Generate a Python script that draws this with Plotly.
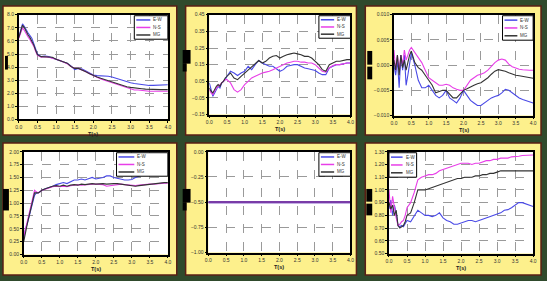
import plotly.graph_objects as go

W, H = 547, 281

# ---------------- data ----------------
T = [0.0, 0.05, 0.1, 0.15, 0.2, 0.25, 0.3, 0.35, 0.4, 0.45, 0.5,
     0.6, 0.7, 0.8, 0.9, 1.0, 1.1, 1.2, 1.3, 1.4, 1.5, 1.6, 1.7, 1.8, 1.9, 2.0,
     2.1, 2.2, 2.3, 2.4, 2.5, 2.6, 2.7, 2.8, 2.9, 3.0, 3.1, 3.2, 3.3, 3.4, 3.5,
     3.6, 3.7, 3.8, 3.9, 4.0]

series_names = ["E-W", "N-S", "MG"]

p1_ew = [6.3, 6.9, 7.3, 7.1, 6.8, 6.6, 6.4, 6.2, 5.8, 5.4, 5.0,
         4.8, 4.85, 4.8, 4.7, 4.55, 4.45, 4.4, 4.3, 4.1, 3.8, 3.9, 3.85, 3.7, 3.55, 3.4,
         3.35, 3.35, 3.35, 3.3, 3.25, 3.15, 3.05, 2.95, 2.85, 2.8, 2.75, 2.7, 2.65, 2.6, 2.6,
         2.6, 2.6, 2.62, 2.6, 2.65]
p1_ns = [6.2, 6.7, 7.0, 6.8, 6.5, 6.3, 6.1, 5.9, 5.6, 5.2, 4.9,
         4.75, 4.8, 4.75, 4.7, 4.6, 4.5, 4.4, 4.25, 4.05, 3.9, 3.9, 3.8, 3.65, 3.5, 3.35,
         3.2, 3.1, 3.0, 2.9, 2.8, 2.7, 2.6, 2.5, 2.4, 2.3, 2.25, 2.25, 2.2, 2.2, 2.15,
         2.15, 2.15, 2.15, 2.15, 2.15]
p1_mg = [6.25, 6.8, 7.2, 7.0, 6.7, 6.45, 6.25, 6.0, 5.7, 5.3, 4.95,
         4.8, 4.8, 4.8, 4.75, 4.6, 4.5, 4.4, 4.3, 4.05, 3.9, 3.9, 3.8, 3.65, 3.5, 3.35,
         3.25, 3.15, 3.05, 2.95, 2.9, 2.8, 2.7, 2.6, 2.5, 2.45, 2.4, 2.38, 2.35, 2.32, 2.3,
         2.28, 2.28, 2.28, 2.28, 2.28]

p2_ew = [0.04, -0.01, -0.04, -0.02, 0.0, 0.02, 0.01, 0.04, 0.05, 0.06, 0.08,
         0.11, 0.10, 0.085, 0.1, 0.11, 0.14, 0.12, 0.15, 0.175, 0.16, 0.15, 0.14, 0.14, 0.125, 0.11,
         0.12, 0.14, 0.145, 0.15, 0.15, 0.14, 0.13, 0.125, 0.12, 0.115, 0.1, 0.09, 0.09, 0.13, 0.14,
         0.15, 0.15, 0.155, 0.16, 0.16]
p2_ns = [0.0, -0.02, -0.03, -0.01, 0.01, 0.02, 0.03, 0.04, 0.05, 0.06, 0.06,
         0.04, 0.0, -0.015, 0.0, 0.03, 0.05, 0.07, 0.08, 0.09, 0.1, 0.105, 0.11, 0.12, 0.13, 0.14,
         0.15, 0.16, 0.165, 0.17, 0.17, 0.165, 0.165, 0.16, 0.16, 0.15, 0.13, 0.11, 0.105, 0.13, 0.145,
         0.15, 0.15, 0.155, 0.16, 0.16]
p2_mg = [0.01, -0.01, -0.02, 0.0, 0.02, 0.03, 0.02, 0.04, 0.05, 0.07, 0.08,
         0.1, 0.07, 0.06, 0.08, 0.1, 0.12, 0.14, 0.16, 0.175, 0.16, 0.17, 0.19, 0.2, 0.205, 0.19,
         0.2, 0.21, 0.215, 0.22, 0.215, 0.21, 0.2, 0.2, 0.19, 0.17, 0.15, 0.12, 0.11, 0.15, 0.16,
         0.17, 0.17, 0.175, 0.18, 0.18]

p3_ew = [0.0, -0.002, 0.001, -0.0045, 0.002, -0.001, 0.002, -0.004, -0.002, 0.0, 0.0025,
         0.0, -0.003, -0.0045, -0.0045, -0.004, -0.005, -0.006, -0.0065, -0.006, -0.005, -0.0065,
         -0.007, -0.0075, -0.0065, -0.005, -0.006, -0.007, -0.0075, -0.008, -0.008, -0.0075,
         -0.007, -0.0065, -0.0062, -0.006, -0.0055, -0.0048, -0.005, -0.0055, -0.006, -0.0065,
         -0.0068, -0.007, -0.0072, -0.0075]
p3_ns = [0.003, -0.001, 0.002, -0.001, 0.002, 0.0, 0.003, 0.001, 0.002, 0.003, 0.0035,
         0.0025, 0.0015, 0.0005, -0.001, -0.0025, -0.003, -0.0035, -0.004, -0.004, -0.0038, -0.004,
         -0.0045, -0.0048, -0.005, -0.005, -0.004, -0.003, -0.0025, -0.002, -0.0018, -0.0015,
         -0.001, -0.0002, 0.0005, 0.001, 0.0012, 0.001, 0.0002, -0.0003, -0.0006, -0.0008,
         -0.0009, -0.001, -0.001, -0.001]
p3_mg = [0.001, -0.001, 0.002, -0.002, 0.002, -0.0005, 0.001, -0.001, 0.0005, 0.002, 0.0028,
         0.0005, -0.0005, -0.001, -0.002, -0.003, -0.004, -0.0055, -0.0053, -0.005, -0.005, -0.0058,
         -0.0065, -0.0065, -0.0058, -0.005, -0.0047, -0.0043, -0.004, -0.0037, -0.0035, -0.003,
         -0.0025, -0.0018, -0.0012, -0.0009, -0.001, -0.0012, -0.0015, -0.0018, -0.002, -0.0021,
         -0.0022, -0.0023, -0.0025, -0.0026]

p4_ew = [0.3, 0.5, 0.6, 0.75, 0.9, 1.05, 1.15, 1.2, 1.2, 1.22, 1.25,
         1.28, 1.3, 1.33, 1.36, 1.38, 1.4, 1.38, 1.42, 1.45, 1.45, 1.47, 1.45, 1.48, 1.5, 1.47,
         1.48, 1.5, 1.53, 1.53, 1.5, 1.48, 1.47, 1.45, 1.45, 1.46, 1.5, 1.53, 1.55, 1.57, 1.58,
         1.6, 1.6, 1.6, 1.6, 1.6]
p4_ns = [0.35, 0.5, 0.65, 0.8, 0.95, 1.1, 1.25, 1.22, 1.2, 1.22, 1.25,
         1.27, 1.3, 1.32, 1.33, 1.32, 1.33, 1.32, 1.34, 1.35, 1.36, 1.35, 1.36, 1.37, 1.37, 1.37,
         1.37, 1.36, 1.33, 1.34, 1.36, 1.37, 1.37, 1.36, 1.35, 1.34, 1.34, 1.35, 1.36, 1.36, 1.37,
         1.37, 1.38, 1.38, 1.39, 1.39]
p4_mg = [0.25, 0.45, 0.6, 0.75, 0.9, 1.05, 1.2, 1.2, 1.2, 1.22, 1.25,
         1.28, 1.31, 1.33, 1.34, 1.33, 1.35, 1.33, 1.35, 1.36, 1.35, 1.37, 1.36, 1.37, 1.38, 1.37,
         1.38, 1.38, 1.37, 1.38, 1.38, 1.38, 1.37, 1.36, 1.35, 1.33, 1.33, 1.34, 1.35, 1.36, 1.37,
         1.38, 1.39, 1.39, 1.4, 1.4]

T5 = [0.0, 4.0]
p5_ew = [-0.5, -0.5]
p5_ns = [-0.5, -0.5]
p5_mg = [-0.5, -0.5]

p6_ew = [0.85, 0.92, 0.8, 0.88, 0.82, 0.72, 0.71, 0.72, 0.71, 0.74, 0.76,
         0.75, 0.8, 0.84, 0.82, 0.8, 0.8, 0.79, 0.8, 0.82, 0.78, 0.76, 0.75, 0.73, 0.73, 0.74,
         0.75, 0.76, 0.76, 0.75, 0.76, 0.77, 0.78, 0.79, 0.8, 0.81, 0.82, 0.84, 0.845, 0.86, 0.88,
         0.9, 0.9, 0.89, 0.88, 0.87]
p6_ns = [1.0, 0.82, 0.95, 0.85, 0.78, 0.72, 0.73, 0.75, 0.76, 0.8, 0.86,
         0.9, 0.98, 1.08, 1.1, 1.11, 1.12, 1.12, 1.13, 1.15, 1.16, 1.17, 1.18, 1.19, 1.2, 1.21,
         1.21, 1.21, 1.2, 1.21, 1.21, 1.22, 1.23, 1.23, 1.24, 1.24, 1.25, 1.25, 1.25, 1.26, 1.26,
         1.265, 1.27, 1.27, 1.27, 1.275]
p6_mg = [0.9, 0.85, 0.88, 0.8, 0.84, 0.72, 0.7, 0.71, 0.72, 0.75, 0.8,
         0.82, 0.9, 1.0, 1.0, 1.0, 1.01, 1.02, 1.03, 1.04, 1.05, 1.06, 1.07, 1.08, 1.09, 1.09,
         1.1, 1.1, 1.1, 1.11, 1.11, 1.12, 1.12, 1.13, 1.13, 1.14, 1.15, 1.15, 1.15, 1.15, 1.15,
         1.15, 1.15, 1.15, 1.15, 1.15]

x_ticks = [0.0, 0.5, 1.0, 1.5, 2.0, 2.5, 3.0, 3.5, 4.0]

# ---------------- styling / layout ----------------
COLORS = ["#4a4ae6", "#e83ee8", "#333333"]
YELLOW = "#fdf08c"
BAND = "#2f4a2c"
EDGE = "#5a1e14"

def px_x(v):
    return v / W

def px_y(v):
    return 1 - v / H

panels = [
    dict(plot=(16, 167, 12, 119), rect=(0, 176, 3, 135), yr=[0, 8], dt=1.0, fmt=".1f",
         data=[p1_ew, p1_ns, p1_mg], t=T, leg=(133, 167, 13, 37),
         blocks=[(2, 5, 54, 68)]),
    dict(plot=(209, 352, 12, 114), rect=(185, 358, 3, 135), yr=[-0.15, 0.45], dt=0.1, fmt=".2f",
         data=[p2_ew, p2_ns, p2_mg], t=T, leg=(320, 352, 13, 36),
         blocks=[(182, 190, 48, 62), (182, 186, 62, 70)]),
    dict(plot=(396, 537, 12, 115), rect=(367, 545, 3, 135), yr=[-0.01, 0.01], dt=0.005, fmt=".3f",
         data=[p3_ew, p3_ns, p3_mg], t=T, leg=(506, 537, 13, 38),
         blocks=[(369, 374, 49, 63), (369, 374, 65, 78)]),
    dict(plot=(21, 167, 152, 257), rect=(0, 176, 143, 278), yr=[0, 2], dt=0.25, fmt=".2f",
         data=[p4_ew, p4_ns, p4_mg], t=T, leg=(115, 167, 153, 177),
         blocks=[(0, 6, 190, 212)]),
    dict(plot=(208, 352, 152, 255), rect=(185, 358, 143, 278), yr=[-1, 0], dt=0.25, fmt=".2f",
         data=[p5_ew, p5_ns, p5_mg], t=T5, leg=(320, 352, 153, 177),
         blocks=[(182, 190, 190, 204), (182, 186, 204, 212)]),
    dict(plot=(391, 537, 152, 256), rect=(367, 545, 143, 278), yr=[0.5, 1.3], dt=0.1, fmt=".2f",
         data=[p6_ew, p6_ns, p6_mg], t=T, leg=(391, 419, 153, 178),
         blocks=[(368, 374, 190, 203), (368, 374, 205, 217)]),
]

fig = go.Figure()
shapes = []
annotations = []

# panel backgrounds first (below everything)
for p in panels:
    rl, rr, rt, rb = p["rect"]
    shapes.append(dict(type="rect", xref="paper", yref="paper", layer="below",
                       x0=px_x(rl), x1=px_x(rr), y0=px_y(rb), y1=px_y(rt),
                       fillcolor=YELLOW, line=dict(color=EDGE, width=1.5)))
# white plot areas on top of the yellow panels, still below grid/traces
for p in panels:
    l, r, t, b = p["plot"]
    shapes.append(dict(type="rect", xref="paper", yref="paper", layer="below",
                       x0=px_x(l), x1=px_x(r), y0=px_y(b), y1=px_y(t),
                       fillcolor="white", line=dict(width=0)))

for i, p in enumerate(panels):
    n = i + 1
    xa = "xaxis" if n == 1 else f"xaxis{n}"
    ya = "yaxis" if n == 1 else f"yaxis{n}"
    xref = "x" if n == 1 else f"x{n}"
    yref = "y" if n == 1 else f"y{n}"
    l, r, t, b = p["plot"]

    for (bl, br, bt, bb) in p["blocks"]:
        shapes.append(dict(type="rect", xref="paper", yref="paper",
                           x0=px_x(bl), x1=px_x(br), y0=px_y(bb), y1=px_y(bt),
                           fillcolor="black", line=dict(width=0)))

    for k, (vals, name, col) in enumerate(zip(p["data"], series_names, COLORS)):
        width = 1.1
        opacity = 1.0
        if n == 5:
            width = 2.2
            opacity = [1.0, 0.55, 0.35][k]
        fig.add_trace(go.Scatter(x=p["t"], y=vals, mode="lines", name=name,
                                 line=dict(color=col, width=width), opacity=opacity,
                                 xaxis=xref, yaxis=yref, showlegend=False,
                                 hoverinfo="skip"))

    axis_common = dict(showline=True, mirror=True, linecolor="black", linewidth=1.5,
                       showgrid=True, gridcolor="#9a9a9a", griddash="dash", gridwidth=0.8,
                       ticks="outside", ticklen=2, tickcolor="black", tickwidth=1,
                       tickfont=dict(size=5, color="#333", family="Liberation Sans"),
                       zeroline=False, fixedrange=True)
    fig.layout[xa] = dict(domain=[px_x(l), px_x(r)], range=[0, 4], anchor=yref,
                          tickvals=x_ticks, tickformat=".1f", **axis_common)
    nt = int(round((p["yr"][1] - p["yr"][0]) / p["dt"])) + 1
    yt = [round(p["yr"][0] + j * p["dt"], 4) for j in range(nt)]
    fig.layout[ya] = dict(domain=[px_y(b), px_y(t)], range=p["yr"], anchor=xref,
                          tickvals=yt, tickformat=p["fmt"], **axis_common)

    annotations.append(dict(text="<b>T(s)</b>", xref="paper", yref="paper",
                            x=px_x((l + r) / 2), y=px_y(b + 15), showarrow=False,
                            font=dict(size=5.5, color="#222", family="Liberation Sans"),
                            xanchor="center", yanchor="middle"))

    gl, gr, gt, gb = p["leg"]
    shapes.append(dict(type="rect", xref="paper", yref="paper",
                       x0=px_x(gl), x1=px_x(gr), y0=px_y(gb), y1=px_y(gt),
                       fillcolor="white", line=dict(color="black", width=1)))
    wbox = gr - gl
    line_l = gl + 2
    line_r = gl + 2 + min(wbox * 0.42, 16)
    rows = [gt + (gb - gt) * f for f in (0.18, 0.5, 0.82)]
    for k, (name, col) in enumerate(zip(series_names, COLORS)):
        yy = rows[k]
        shapes.append(dict(type="line", xref="paper", yref="paper",
                           x0=px_x(line_l), x1=px_x(line_r), y0=px_y(yy), y1=px_y(yy),
                           line=dict(color=col, width=1.5)))
        annotations.append(dict(text=name, xref="paper", yref="paper",
                                x=px_x(line_r + 1), y=px_y(yy), showarrow=False,
                                xanchor="left", yanchor="middle",
                                font=dict(size=4.5, color="#333", family="Liberation Sans")))

fig.update_layout(width=W, height=H, margin=dict(l=0, r=0, t=0, b=0),
                  paper_bgcolor=BAND, plot_bgcolor="white",
                  shapes=shapes, annotations=annotations, showlegend=False)

fig.write_html("out.html")
